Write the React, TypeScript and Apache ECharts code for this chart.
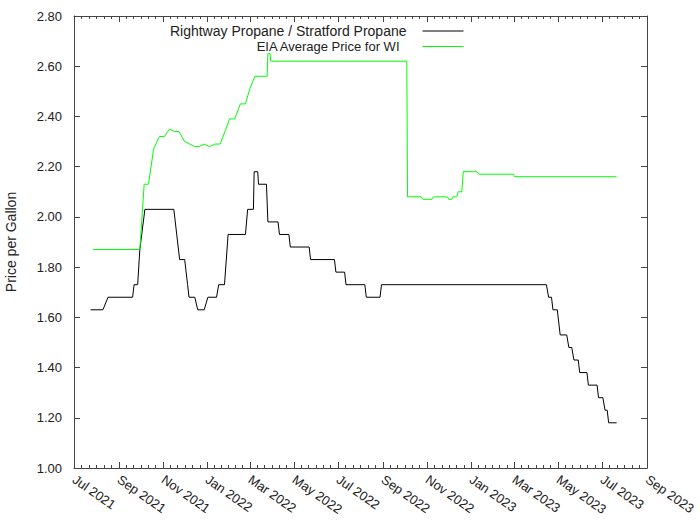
import React, { useEffect, useRef } from 'react';
import * as echarts from 'echarts';

const FONT = '"Liberation Sans", Arial, sans-serif';
const MONTHS = ['Jan', 'Feb', 'Mar', 'Apr', 'May', 'Jun', 'Jul', 'Aug', 'Sep', 'Oct', 'Nov', 'Dec'];

const seriesNames = ['Rightway Propane / Stratford Propane', 'EIA Average Price for WI'];

const rightwayDates = [
  '2021-07-24', '2021-08-10', '2021-08-17', '2021-09-20', '2021-09-22', '2021-09-27', '2021-09-30',
  '2021-10-07', '2021-11-16', '2021-11-24', '2021-12-01', '2021-12-05', '2021-12-07', '2021-12-15',
  '2021-12-19', '2021-12-28', '2022-01-02', '2022-01-14', '2022-01-17', '2022-01-25', '2022-01-30',
  '2022-02-23', '2022-02-26', '2022-03-06', '2022-03-07', '2022-03-12', '2022-03-13', '2022-03-24',
  '2022-03-26', '2022-04-09', '2022-04-11', '2022-04-24', '2022-04-26', '2022-05-22', '2022-05-24',
  '2022-06-26', '2022-06-28', '2022-07-10', '2022-07-12', '2022-08-07', '2022-08-09', '2022-08-28',
  '2022-08-30', '2023-04-15', '2023-04-18', '2023-04-22', '2023-04-24', '2023-04-30', '2023-05-04',
  '2023-05-13', '2023-05-16', '2023-05-20', '2023-05-23', '2023-05-29', '2023-05-31', '2023-06-10',
  '2023-06-12', '2023-06-24', '2023-06-26', '2023-07-02', '2023-07-05', '2023-07-08', '2023-07-10',
  '2023-07-21',
];
const rightwayValues = [
  1.63, 1.63, 1.68, 1.68, 1.73, 1.73, 1.87,
  2.03, 2.03, 1.83, 1.83, 1.73, 1.68, 1.68,
  1.63, 1.63, 1.68, 1.68, 1.73, 1.73, 1.93,
  1.93, 2.03, 2.03, 2.18, 2.18, 2.13, 2.13,
  1.98, 1.98, 1.93, 1.93, 1.88, 1.88, 1.83,
  1.83, 1.78, 1.78, 1.73, 1.73, 1.68, 1.68,
  1.73, 1.73, 1.68, 1.68, 1.63, 1.63, 1.53,
  1.53, 1.48, 1.48, 1.43, 1.43, 1.38, 1.38,
  1.33, 1.33, 1.28, 1.28, 1.23, 1.23, 1.18,
  1.18,
];

const eiaDates = [
  '2021-07-27', '2021-09-30', '2021-10-06', '2021-10-12', '2021-10-19', '2021-10-27', '2021-11-03',
  '2021-11-10', '2021-11-17', '2021-11-23', '2021-12-01', '2021-12-08', '2021-12-15', '2021-12-21',
  '2021-12-28', '2022-01-04', '2022-01-12', '2022-01-19', '2022-01-27', '2022-02-01', '2022-02-08',
  '2022-02-16', '2022-02-23', '2022-03-01', '2022-03-08', '2022-03-25', '2022-03-26', '2022-03-29',
  '2022-03-30', '2022-10-04', '2022-10-05', '2022-10-24', '2022-10-26', '2022-11-08', '2022-11-10',
  '2022-11-29', '2022-12-01', '2022-12-05', '2022-12-07', '2022-12-12', '2022-12-14', '2022-12-19',
  '2022-12-21', '2023-01-09', '2023-01-12', '2023-02-28', '2023-03-02', '2023-07-21',
];
const eiaValues = [
  1.87, 1.87, 2.13, 2.13, 2.27, 2.32, 2.32,
  2.35, 2.34, 2.34, 2.30, 2.29, 2.28, 2.28,
  2.29, 2.28, 2.29, 2.29, 2.35, 2.39, 2.39,
  2.45, 2.45, 2.51, 2.56, 2.56, 2.65, 2.65,
  2.62, 2.62, 2.08, 2.08, 2.07, 2.07, 2.08,
  2.08, 2.07, 2.07, 2.08, 2.08, 2.10, 2.10,
  2.18, 2.18, 2.17, 2.17, 2.16, 2.16,
];

const X_MIN = '2021-07-01';
const X_MAX = '2023-09-01';
const Y_MIN = 1.0;
const Y_MAX = 2.8;
const Y_STEP = 0.2;

function toTs(s: string): number {
  const [y, m, d] = s.split('-').map(Number);
  return new Date(y, m - 1, d).getTime();
}

const AXIS_COLOR = '#444';
const TEXT_COLOR = '#222';

export default function App() {
  const ref = useRef<HTMLDivElement>(null);
  useEffect(() => {
    if (!ref.current) return;
    const chart = echarts.init(ref.current, null, { renderer: 'svg' });
    const xCommon = {
      type: 'time',
      min: toTs(X_MIN),
      max: toTs(X_MAX),
      splitNumber: 12,
      axisLine: { show: true, onZero: false, lineStyle: { color: AXIS_COLOR, width: 1 } },
      axisTick: { show: true, inside: true, length: 6, lineStyle: { color: AXIS_COLOR } },
      minorTick: { show: true, splitNumber: 6, length: 3, lineStyle: { color: AXIS_COLOR } },
      splitLine: { show: false },
      minorSplitLine: { show: false },
    };
    const yCommon = {
      type: 'value',
      min: Y_MIN,
      max: Y_MAX,
      interval: Y_STEP,
      axisLine: { show: true, onZero: false, lineStyle: { color: AXIS_COLOR, width: 1 } },
      axisTick: { show: true, inside: true, length: 6, lineStyle: { color: AXIS_COLOR } },
      splitLine: { show: false },
    };
    const legendCommon = {
      orient: 'horizontal',
      align: 'right',
      padding: 0,
      itemWidth: 41,
      itemHeight: 14,
      itemStyle: { opacity: 0 },
      lineStyle: { width: 1, opacity: 1 },
      right: 236,
    };
    chart.setOption({
      animation: false,
      backgroundColor: '#ffffff',
      textStyle: { fontFamily: FONT },
      grid: {
        left: 74,
        right: 53,
        top: 16,
        bottom: 57,
        containLabel: false,
        outerBoundsMode: 'none',
      },
      legend: [
        {
          ...legendCommon,
          top: 24,
          data: [seriesNames[0]],
          textStyle: { fontFamily: FONT, fontSize: 14, color: TEXT_COLOR, padding: [0, 11, 0, 0] },
        },
        {
          ...legendCommon,
          top: 40,
          data: [seriesNames[1]],
          textStyle: { fontFamily: FONT, fontSize: 13, color: TEXT_COLOR, padding: [0, 18, 0, 0] },
        },
      ],
      xAxis: [
        {
          ...xCommon,
          position: 'bottom',
          axisLabel: {
            show: true,
            rotate: -35,
            margin: 10,
            interval: 0,
            hideOverlap: false,
            showMinLabel: true,
            showMaxLabel: true,
            fontFamily: FONT,
            fontSize: 13,
            color: TEXT_COLOR,
            formatter: (v: number) => {
              const d = new Date(v);
              return MONTHS[d.getMonth()] + ' ' + d.getFullYear();
            },
          },
        },
        { ...xCommon, position: 'top', axisLabel: { show: false } },
      ],
      yAxis: [
        {
          ...yCommon,
          position: 'left',
          name: 'Price per Gallon',
          nameLocation: 'middle',
          nameGap: 56,
          nameRotate: 90,
          nameTextStyle: { fontFamily: FONT, fontSize: 14, color: TEXT_COLOR },
          axisLabel: {
            show: true,
            margin: 12,
            fontFamily: FONT,
            fontSize: 13,
            color: TEXT_COLOR,
            formatter: (v: number) => v.toFixed(2),
          },
        },
        { ...yCommon, position: 'right', axisLabel: { show: false } },
      ],
      series: [
        {
          name: seriesNames[0],
          type: 'line',
          xAxisIndex: 0,
          yAxisIndex: 0,
          symbol: 'none',
          showSymbol: false,
          color: '#000000',
          lineStyle: { color: '#000000', width: 1 },
          data: rightwayDates.map((d, i) => [toTs(d), rightwayValues[i]]),
        },
        {
          name: seriesNames[1],
          type: 'line',
          xAxisIndex: 0,
          yAxisIndex: 0,
          symbol: 'none',
          showSymbol: false,
          color: '#00ff00',
          lineStyle: { color: '#00ff00', width: 1 },
          data: eiaDates.map((d, i) => [toTs(d), eiaValues[i]]),
        },
      ],
    });
    return () => chart.dispose();
  }, []);
  return (
    <div
      ref={ref}
      style={{ position: 'fixed', left: 0, top: 0, width: 700, height: 525, background: '#fff' }}
    />
  );
}
